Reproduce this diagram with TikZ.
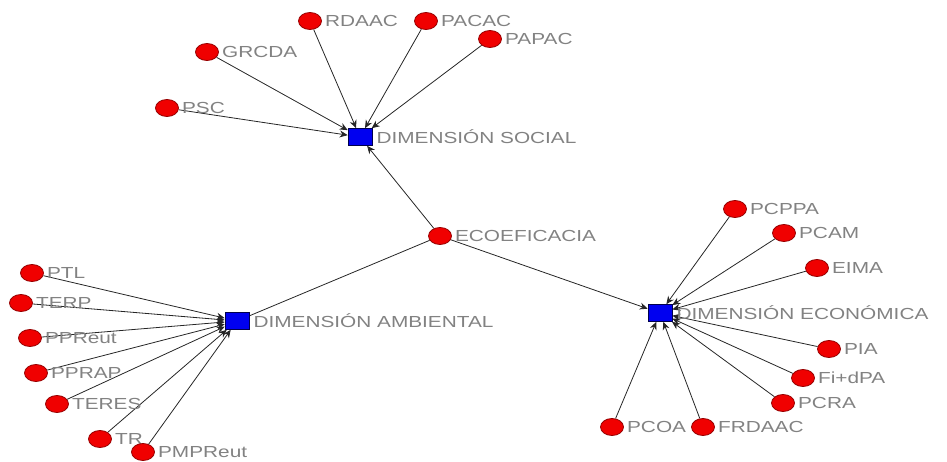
\documentclass[tikz,border=0pt]{standalone}
\usepackage{fontspec}
\newfontfamily\lblfont[FakeStretch=1.3]{Liberation Sans}
\usetikzlibrary{arrows.meta,shapes.geometric,backgrounds}
\definecolor{nodered}{RGB}{240,0,0}
\definecolor{nodeedge}{RGB}{150,0,0}
\definecolor{hubblue}{RGB}{0,0,240}
\definecolor{lblgray}{RGB}{130,130,130}
\tikzset{
  lbl/.style={font=\lblfont\fontsize{16}{16}\selectfont, text=lblgray, inner sep=1pt},
  leaf/.style={ellipse, draw=nodeedge, line width=0.8pt, fill=nodered,
    minimum width=23pt, minimum height=17pt, inner sep=0pt},
  hub/.style={rectangle, draw=black!70!blue, line width=0.6pt, fill=hubblue,
    minimum width=24pt, minimum height=17pt, inner sep=0pt},
  link/.style={draw=black!85, line width=0.8pt},
  arr/.style={link, -{Stealth[length=8pt,width=7pt]}}
}
\begin{document}
\begin{tikzpicture}[x=1pt,y=-1pt]
\useasboundingbox (0,0) rectangle (947,462);
% hubs
\node[hub, label={[lbl,label distance=3pt]east:DIMENSIÓN SOCIAL}] (soc) at (360,137) {};
\node[hub, label={[lbl,label distance=3pt]east:DIMENSIÓN AMBIENTAL}] (amb) at (237,321) {};
\node[hub, label={[lbl,label distance=3pt]east:DIMENSIÓN ECONÓMICA}] (econ) at (660,313) {};
\node[leaf, label={[lbl,label distance=2pt]east:ECOEFICACIA}] (eco) at (440,236) {};
% social indicators
\node[leaf, label={[lbl,label distance=2pt]east:PSC}] (psc) at (167,108) {};
\node[leaf, label={[lbl,label distance=2pt]east:GRCDA}] (grcda) at (207,52) {};
\node[leaf, label={[lbl,label distance=2pt]east:RDAAC}] (rdaac) at (310,21) {};
\node[leaf, label={[lbl,label distance=2pt]east:PACAC}] (pacac) at (426,21) {};
\node[leaf, label={[lbl,label distance=2pt]east:PAPAC}] (papac) at (490,39) {};
% environmental indicators
\node[leaf, label={[lbl,label distance=2pt]east:PTL}] (ptl) at (32,273) {};
\node[leaf, label={[lbl,label distance=2pt]east:TERP}] (terp) at (21,303) {};
\node[leaf, label={[lbl,label distance=2pt]east:PPReut}] (ppreut) at (30,338) {};
\node[leaf, label={[lbl,label distance=2pt]east:PPRAP}] (pprap) at (36,373) {};
\node[leaf, label={[lbl,label distance=2pt]east:TERES}] (teres) at (57,404) {};
\node[leaf, label={[lbl,label distance=2pt]east:TR}] (tr) at (100,439) {};
\node[leaf, label={[lbl,label distance=2pt]east:PMPReut}] (pmpreut) at (143,452) {};
% economic indicators
\node[leaf, label={[lbl,label distance=2pt]east:PCPPA}] (pcppa) at (735,209) {};
\node[leaf, label={[lbl,label distance=2pt]east:PCAM}] (pcam) at (784,233) {};
\node[leaf, label={[lbl,label distance=2pt]east:EIMA}] (eima) at (817,268) {};
\node[leaf, label={[lbl,label distance=2pt]east:PIA}] (pia) at (829,349) {};
\node[leaf, label={[lbl,label distance=2pt]east:Fi+dPA}] (fidpa) at (803,378) {};
\node[leaf, label={[lbl,label distance=2pt]east:PCRA}] (pcra) at (783,403) {};
\node[leaf, label={[lbl,label distance=2pt]east:PCOA}] (pcoa) at (612,427) {};
\node[leaf, label={[lbl,label distance=2pt]east:FRDAAC}] (frdaac) at (703,427) {};
% connectors, drawn beneath the nodes
\begin{scope}[on background layer]
\draw[arr] (eco) -- (soc);
\draw[arr] (eco) -- (econ);
\draw[link] (eco) -- (amb);
\foreach \s in {psc,grcda,rdaac,pacac,papac} \draw[arr] (\s) -- (soc);
\foreach \s in {ptl,terp,ppreut,pprap,teres,tr,pmpreut} \draw[arr] (\s) -- (amb);
\foreach \s in {pcppa,pcam,eima,pia,fidpa,pcra,pcoa,frdaac} \draw[arr] (\s) -- (econ);
\end{scope}
\end{tikzpicture}
\end{document}
